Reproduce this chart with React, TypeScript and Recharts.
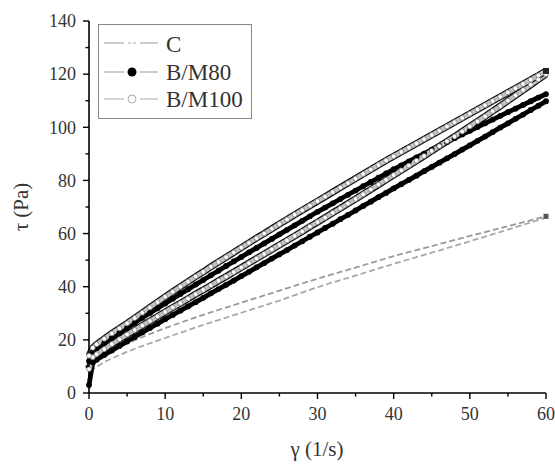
import React from 'react';
import { LineChart, Line, XAxis, YAxis } from 'recharts';

// shear rate (1/s) for the B/M loops
const gamma = [0, 0.5, 1, 2, 3, 4, 5, 6, 7, 8, 9, 10, 11, 12, 13, 14, 15, 16, 17, 18, 19, 20, 21, 22, 23, 24, 25, 26, 27, 28, 29, 30, 31, 32, 33, 34, 35, 36, 37, 38, 39, 40, 41, 42, 43, 44, 45, 46, 47, 48, 49, 50, 51, 52, 53, 54, 55, 56, 57, 58, 59, 60];

// B/M100 (open circles)
const bm100Up = [14, 17, 18.3, 20.4, 22.4, 24.3, 26.2, 28.2, 30.2, 32.2, 34.2, 36.2, 38.1, 40, 41.9, 43.8, 45.6, 47.5, 49.3, 51.1, 52.9, 54.7, 56.5, 58.3, 60, 61.8, 63.6, 65.3, 67.1, 68.8, 70.5, 72.2, 73.9, 75.6, 77.3, 79, 80.7, 82.4, 84.1, 85.8, 87.5, 89.1, 90.7, 92.3, 93.9, 95.5, 97.1, 98.7, 100.3, 101.9, 103.5, 105.1, 106.7, 108.3, 109.9, 111.5, 113.1, 114.7, 116.3, 117.9, 119.5, 121.2];
const bm100Down = [9, 13.5, 14.6, 16.5, 18.4, 20.2, 22, 23.7, 25.4, 27.1, 28.8, 30.5, 32.2, 33.8, 35.5, 37.2, 38.8, 40.5, 42.2, 43.8, 45.5, 47.2, 48.9, 50.6, 52.3, 54, 55.7, 57.4, 59.1, 60.8, 62.6, 64.3, 66, 67.8, 69.5, 71.3, 73, 74.8, 76.6, 78.4, 80.2, 82, 83.8, 85.6, 87.4, 89.2, 91.1, 92.9, 94.7, 96.5, 98.4, 100.3, 102.2, 104.1, 106.1, 108, 110, 112, 114, 116, 118, 120];

// B/M80 (filled circles)
const bm80Up = [12, 15.5, 16.8, 18.8, 20.7, 22.6, 24.5, 26.4, 28.3, 30.1, 31.9, 33.7, 35.5, 37.3, 39, 40.8, 42.5, 44.3, 46, 47.8, 49.5, 51.2, 52.9, 54.6, 56.3, 58, 59.7, 61.4, 63.1, 64.8, 66.5, 68.2, 69.8, 71.4, 73, 74.6, 76.2, 77.8, 79.4, 81, 82.6, 84.2, 85.7, 87.2, 88.7, 90.1, 91.6, 93, 94.5, 95.9, 97.3, 98.7, 100.1, 101.5, 102.9, 104.3, 105.7, 107, 108.4, 109.8, 111.2, 112.5];
const bm80Down = [3, 11.5, 12.5, 14.3, 16, 17.7, 19.4, 21.1, 22.8, 24.5, 26.1, 27.8, 29.4, 31, 32.6, 34.2, 35.8, 37.5, 39.1, 40.7, 42.3, 44, 45.6, 47.3, 48.9, 50.6, 52.2, 53.8, 55.5, 57.1, 58.8, 60.4, 62.1, 63.7, 65.4, 67, 68.7, 70.4, 72, 73.7, 75.3, 77, 78.6, 80.2, 81.8, 83.5, 85.1, 86.7, 88.3, 89.9, 91.6, 93.2, 94.9, 96.5, 98.2, 99.9, 101.5, 103.2, 104.8, 106.5, 108.1, 109.8];

// C (dashed grey)
const cGamma = [0, 0.5, 1, 2, 3, 4, 5, 10, 15, 20, 25, 30, 35, 40, 45, 50, 55, 60];
const cUp = [8, 11, 12.3, 14.2, 15.8, 17.3, 18.6, 24.4, 29.4, 34, 38.5, 43, 47.2, 51.5, 55.3, 59.1, 62.8, 66.5];
const cDown = [1, 8.8, 9.8, 11.6, 13, 14.3, 15.5, 20.7, 25.6, 30.2, 34.8, 39.8, 44.2, 48.6, 52.8, 57.1, 61.5, 66];

const xTicks = [0, 5, 10, 15, 20, 25, 30, 35, 40, 45, 50, 55, 60];
const yTicks = [0, 10, 20, 30, 40, 50, 60, 70, 80, 90, 100, 110, 120, 130, 140];
const legendLabels = ['C', 'B/M80', 'B/M100'];

const pts = (xs: number[], ys: number[]) => xs.map((x, i) => ({ x, y: ys[i] }));

const FONT = '"Liberation Serif", "Times New Roman", serif';

const XTick = (props: any) => {
  const { x, y, payload } = props;
  const v = payload.value;
  const major = v % 10 === 0;
  return (
    <g>
      <line x1={x} x2={x} y1={y} y2={y + (major ? 6 : 3.5)} stroke="#000" strokeWidth={1.4} />
      {major && (
        <text x={x} y={y + 27} textAnchor="middle" fontFamily={FONT} fontSize={18} fill="#333">
          {v}
        </text>
      )}
    </g>
  );
};

const YTick = (props: any) => {
  const { x, y, payload } = props;
  const v = payload.value;
  const major = v % 20 === 0;
  return (
    <g>
      <line x1={x - (major ? 6 : 3.5)} x2={x} y1={y} y2={y} stroke="#000" strokeWidth={1.4} />
      {major && (
        <text x={x - 13} y={y} dy="0.35em" textAnchor="end" fontFamily={FONT} fontSize={18} fill="#333">
          {v}
        </text>
      )}
    </g>
  );
};

const openDot = (last: number) => (p: any) => {
  const { cx, cy, index } = p;
  if (index === last)
    return <rect key={`e${index}`} x={cx - 3} y={cy - 3} width={6} height={6} fill="#222" />;
  return <circle key={`d${index}`} cx={cx} cy={cy} r={2.4} fill="#fff" stroke="#777" strokeWidth={0.8} />;
};

const blackDot = (p: any) => {
  const { cx, cy, index } = p;
  return <circle key={`b${index}`} cx={cx} cy={cy} r={2.9} fill="#000" stroke="none" />;
};

const cDot = (last: number) => (p: any) => {
  const { cx, cy, index } = p;
  if (index === last)
    return <rect key={`e${index}`} x={cx - 2.5} y={cy - 2.5} width={5} height={5} fill="#555" />;
  return <g key={`n${index}`} />;
};

export default function App() {
  const bm100UpPts = pts(gamma, bm100Up);
  const bm100DownPts = pts(gamma, bm100Down);
  const bm80UpPts = pts(gamma, bm80Up);
  const bm80DownPts = pts(gamma, bm80Down);
  const cUpPts = pts(cGamma, cUp);
  const cDownPts = pts(cGamma, cDown);

  return (
    <div style={{ position: 'absolute', left: 0, top: 0, width: 555, height: 466, background: '#fff' }}>
      <LineChart width={555} height={466} margin={{ top: 21, right: 9, left: 0, bottom: 20 }}>
        <XAxis
          type="number"
          dataKey="x"
          domain={[0, 60]}
          ticks={xTicks}
          interval={0}
          tickSize={0}
          tickMargin={0}
          tickLine={false}
          tick={<XTick />}
          axisLine={{ stroke: '#000', strokeWidth: 1.6 }}
          height={53}
        />
        <YAxis
          type="number"
          dataKey="y"
          domain={[0, 140]}
          ticks={yTicks}
          interval={0}
          tickSize={0}
          tickMargin={0}
          tickLine={false}
          tick={<YTick />}
          axisLine={{ stroke: '#000', strokeWidth: 1.6 }}
          width={89}
        />
        <Line data={cUpPts} dataKey="y" type="monotone" stroke="#9a9a9a" strokeWidth={1.8} strokeDasharray="6 3" dot={cDot(cUp.length - 1)} isAnimationActive={false} />
        <Line data={cDownPts} dataKey="y" type="monotone" stroke="#a8a8a8" strokeWidth={1.8} strokeDasharray="6 3" dot={false} isAnimationActive={false} />

        <Line data={bm80DownPts} dataKey="y" type="linear" stroke="#000" strokeWidth={4.8} dot={blackDot} isAnimationActive={false} />
        <Line data={bm80UpPts} dataKey="y" type="linear" stroke="#000" strokeWidth={4.8} dot={blackDot} isAnimationActive={false} />

        <Line data={bm100DownPts} dataKey="y" type="linear" stroke="#111" strokeWidth={7} dot={false} isAnimationActive={false} />
        <Line data={bm100DownPts} dataKey="y" type="linear" stroke="#c4c4c4" strokeWidth={4.5} dot={openDot(-1)} isAnimationActive={false} />
        <Line data={bm100UpPts} dataKey="y" type="linear" stroke="#111" strokeWidth={7} dot={false} isAnimationActive={false} />
        <Line data={bm100UpPts} dataKey="y" type="linear" stroke="#c4c4c4" strokeWidth={4.5} dot={openDot(bm100Up.length - 1)} isAnimationActive={false} />
      </LineChart>

      <svg width={555} height={466} style={{ position: 'absolute', left: 0, top: 0, pointerEvents: 'none' }}>
        <text x={317} y={456} textAnchor="middle" fontFamily={FONT} fontSize={21} fill="#333">
          γ (1/s)
        </text>
        <text x={28} y={207} transform="rotate(-90, 28, 207)" textAnchor="middle" fontFamily={FONT} fontSize={21} fill="#333">
          τ (Pa)
        </text>

        <rect x={98.5} y={24.5} width={153} height={94} fill="#fff" stroke="#888" strokeWidth={1} />
        {/* C */}
        <line x1={104} x2={124} y1={43} y2={43} stroke="#aaa" strokeWidth={1.2} />
        <line x1={128} x2={136} y1={43} y2={43} stroke="#aaa" strokeWidth={1.2} strokeDasharray="3 2" />
        <line x1={140} x2={158} y1={43} y2={43} stroke="#aaa" strokeWidth={1.2} />
        <text x={166} y={51.5} fontFamily={FONT} fontSize={23} fill="#333">{legendLabels[0]}</text>
        {/* B/M80 */}
        <line x1={104} x2={124} y1={72} y2={72} stroke="#999" strokeWidth={1} />
        <line x1={140} x2={158} y1={72} y2={72} stroke="#999" strokeWidth={1} />
        <circle cx={132} cy={72} r={4.5} fill="#000" />
        <text x={166} y={80} fontFamily={FONT} fontSize={23} fill="#333">{legendLabels[1]}</text>
        {/* B/M100 */}
        <line x1={104} x2={124} y1={99} y2={99} stroke="#aaa" strokeWidth={1} />
        <line x1={140} x2={158} y1={99} y2={99} stroke="#aaa" strokeWidth={1} />
        <circle cx={132} cy={99} r={4} fill="#fff" stroke="#aaa" strokeWidth={1} />
        <text x={166} y={107} fontFamily={FONT} fontSize={23} fill="#333">{legendLabels[2]}</text>
      </svg>
    </div>
  );
}
